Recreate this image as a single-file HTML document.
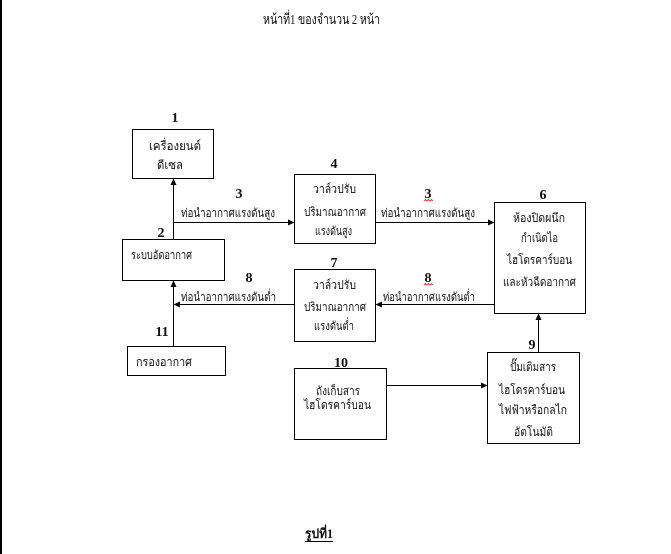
<!DOCTYPE html>
<html><head><meta charset="utf-8"><style>
html,body{margin:0;padding:0;background:#fff;width:671px;height:554px;overflow:hidden}
svg{display:block}
.t{font-family:"Liberation Serif","DejaVu Sans",serif;font-size:12px;fill:#111}
.n{font-family:"Liberation Serif",serif;font-size:14px;font-weight:bold;fill:#111}
</style></head><body>
<svg width="671" height="554" viewBox="0 0 671 554" xmlns="http://www.w3.org/2000/svg">
<rect x="0" y="0" width="671" height="554" fill="#fff"/>
<rect x="0" y="0" width="2" height="554" fill="#000"/>
<text x="263" y="24" class="t" style="font-size:14px" textLength="117" lengthAdjust="spacingAndGlyphs">หน้าที่1 ของจำนวน 2 หน้า</text>
<g fill="none" stroke="#000" stroke-width="1">
<rect x="132.5" y="129.5" width="81" height="49"/>
<rect x="122.5" y="239.5" width="102" height="41"/>
<rect x="127.5" y="346.5" width="98" height="29"/>
<rect x="294.5" y="174.5" width="81" height="69"/>
<rect x="294.5" y="269.5" width="81" height="72"/>
<rect x="294.5" y="368.5" width="92" height="71"/>
<rect x="494.5" y="202.5" width="91" height="111"/>
<rect x="487.5" y="352.5" width="92" height="91"/>
<line x1="173.5" y1="239" x2="173.5" y2="184"/>
<line x1="173.5" y1="222.5" x2="288" y2="222.5"/>
<line x1="375" y1="222.5" x2="488" y2="222.5"/>
<line x1="494" y1="304.5" x2="381" y2="304.5"/>
<line x1="294" y1="304.5" x2="179" y2="304.5"/>
<line x1="173.5" y1="346" x2="173.5" y2="286"/>
<line x1="386" y1="385.5" x2="481" y2="385.5"/>
<line x1="538.5" y1="352" x2="538.5" y2="319"/>
</g>
<g fill="#000">
<polygon points="173.5,178.5 170.5,185 176.5,185"/>
<polygon points="294.5,222.5 288,219.5 288,225.5"/>
<polygon points="494.5,222.5 488,219.5 488,225.5"/>
<polygon points="375.5,304.5 382,301.5 382,307.5"/>
<polygon points="173.5,304.5 180,301.5 180,307.5"/>
<polygon points="173.5,280.5 170.5,287 176.5,287"/>
<polygon points="487.5,385.5 481,382.5 481,388.5"/>
<polygon points="538.5,313.5 535.5,320 541.5,320"/>
</g>
<text x="175" y="122" class="n" text-anchor="middle">1</text>
<text x="334" y="168" class="n" text-anchor="middle">4</text>
<text x="161" y="237" class="n" text-anchor="middle">2</text>
<text x="239" y="198" class="n" text-anchor="middle">3</text>
<text x="334" y="267" class="n" text-anchor="middle">7</text>
<text x="249" y="282" class="n" text-anchor="middle">8</text>
<text x="162" y="336" class="n" text-anchor="middle">11</text>
<text x="341" y="367" class="n" text-anchor="middle">10</text>
<text x="543" y="199" class="n" text-anchor="middle">6</text>
<text x="428" y="198" class="n" text-anchor="middle">3</text>
<text x="428" y="282" class="n" text-anchor="middle">8</text>
<text x="532" y="349" class="n" text-anchor="middle">9</text>
<path d="M424,201 l1.5,-1.5 l1.5,1.5 l1.5,-1.5 l1.5,1.5 l1.5,-1.5 l1.5,1.5" stroke="#d22" stroke-width="0.8" fill="none"/>
<path d="M424,285 l1.5,-1.5 l1.5,1.5 l1.5,-1.5 l1.5,1.5 l1.5,-1.5 l1.5,1.5" stroke="#d22" stroke-width="0.8" fill="none"/>
<text x="149" y="150" class="t" textLength="52" lengthAdjust="spacingAndGlyphs">เครื่องยนต์</text>
<text x="157" y="169" class="t" textLength="26" lengthAdjust="spacingAndGlyphs">ดีเซล</text>
<text x="131" y="259" class="t" textLength="61" lengthAdjust="spacingAndGlyphs">ระบบอัดอากาศ</text>
<text x="136" y="366" class="t" textLength="56" lengthAdjust="spacingAndGlyphs">กรองอากาศ</text>
<text x="181" y="217" class="t" textLength="94" lengthAdjust="spacingAndGlyphs">ท่อนำอากาศแรงดันสูง</text>
<text x="181" y="301" class="t" textLength="95" lengthAdjust="spacingAndGlyphs">ท่อนำอากาศแรงดันต่ำ</text>
<text x="381" y="217" class="t" textLength="94" lengthAdjust="spacingAndGlyphs">ท่อนำอากาศแรงดันสูง</text>
<text x="383" y="301" class="t" textLength="92" lengthAdjust="spacingAndGlyphs">ท่อนำอากาศแรงดันต่ำ</text>
<text x="313" y="193" class="t" textLength="43" lengthAdjust="spacingAndGlyphs">วาล์วปรับ</text>
<text x="304" y="216" class="t" textLength="62" lengthAdjust="spacingAndGlyphs">ปริมาณอากาศ</text>
<text x="315" y="235" class="t" textLength="37" lengthAdjust="spacingAndGlyphs">แรงดันสูง</text>
<text x="313" y="289" class="t" textLength="43" lengthAdjust="spacingAndGlyphs">วาล์วปรับ</text>
<text x="304" y="311" class="t" textLength="62" lengthAdjust="spacingAndGlyphs">ปริมาณอากาศ</text>
<text x="314" y="330" class="t" textLength="40" lengthAdjust="spacingAndGlyphs">แรงดันต่ำ</text>
<text x="316" y="395" class="t" textLength="44" lengthAdjust="spacingAndGlyphs">ถังเก็บสาร</text>
<text x="304" y="409" class="t" textLength="67" lengthAdjust="spacingAndGlyphs">ไฮโดรคาร์บอน</text>
<text x="513" y="222" class="t" textLength="52" lengthAdjust="spacingAndGlyphs">ห้องปิดผนึก</text>
<text x="521" y="242" class="t" textLength="37" lengthAdjust="spacingAndGlyphs">กำเนิดไอ</text>
<text x="507" y="264" class="t" textLength="65" lengthAdjust="spacingAndGlyphs">ไฮโดรคาร์บอน</text>
<text x="503" y="286" class="t" textLength="73" lengthAdjust="spacingAndGlyphs">และหัวฉีดอากาศ</text>
<text x="510" y="371" class="t" textLength="46" lengthAdjust="spacingAndGlyphs">ปั๊มเติมสาร</text>
<text x="499" y="394" class="t" textLength="66" lengthAdjust="spacingAndGlyphs">ไฮโดรคาร์บอน</text>
<text x="499" y="414" class="t" textLength="68" lengthAdjust="spacingAndGlyphs">ไฟฟ้าหรือกลไก</text>
<text x="514" y="436" class="t" textLength="39" lengthAdjust="spacingAndGlyphs">อัตโนมัติ</text>
<text x="305" y="538" class="t" style="font-size:13px;font-weight:bold" textLength="28" lengthAdjust="spacingAndGlyphs">รูปที่1</text>
<line x1="305" y1="541.5" x2="333" y2="541.5" stroke="#000" stroke-width="1"/>
</svg>
</body></html>
